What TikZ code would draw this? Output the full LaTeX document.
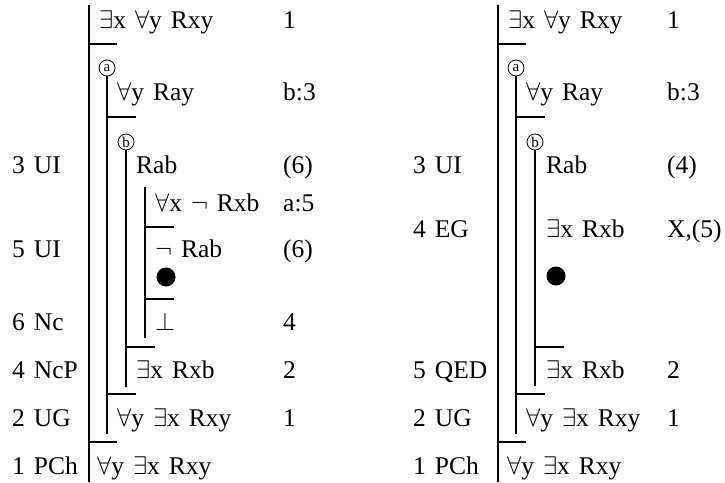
\RequirePackage{fix-cm}
\documentclass[tikz,border=0pt]{standalone}
\usepackage{fontspec}
\setmainfont[WordSpace=1.4]{Liberation Serif}
\usepackage{tikz}
\usetikzlibrary{positioning}

\newcommand{\qE}{$\exists$}
\newcommand{\qA}{$\forall$}
\newcommand{\qN}{$\neg$}
\newcommand{\qF}{$\bot$}

\begin{document}
\begin{tikzpicture}[
  x=1pt, y=-1pt,
  fml/.style={anchor=base west, inner sep=0pt, font=\fontsize{25.5}{30}\selectfont},
  rulename/.style={fml},
  just/.style={fml},
  tag/.style={circle, draw, line width=0.8pt, inner sep=0pt, minimum size=16pt,
              font=\fontsize{15}{15}\selectfont},
  bar/.style={line width=1.4pt},
  blob/.style={circle, fill=black, inner sep=0pt, minimum size=19pt}
]
\useasboundingbox (0,0) rectangle (725,482);

% left proof: scope lines
\draw[bar] (89,5) -- (89,482);
\draw[bar] (89,44) -- (117,44);
\node[tag] (La) at (107,68) {a};
\draw[bar] (La.south) -- (107,434);
\draw[bar] (107,117) -- (136,117);
\node[tag] (Lb) at (126,142) {b};
\draw[bar] (Lb.south) -- (126,387);
\draw[bar] (145,187) -- (145,338);
\draw[bar] (145,227) -- (174,227);
\draw[bar] (145,299) -- (174,299);
\draw[bar] (126,347) -- (155,347);
\draw[bar] (107,394) -- (136,394);
\draw[bar] (89,442) -- (117,442);

% left proof: lines of the proof
\node[fml] (Lprem) at (99,28)  {\qE x \qA y Rxy};
\node[fml] (Lray)  at (117,100) {\qA y Ray};
\node[fml] (Lrab)  at (136,173) {Rab};
\node[fml] (Lhyp)  at (155,211) {\qA x \qN\ Rxb};
\node[fml] (Lnrab) at (155,257) {\qN\ Rab};
\node[blob] (Ldot) at (166,277) {};
\node[fml] (Lbot)  at (155,330) {\qF};
\node[fml] (Lex)   at (136,378) {\qE x Rxb};
\node[fml] (Lug)   at (117,426) {\qA y \qE x Rxy};
\node[fml] (Lend)  at (97,474)  {\qA y \qE x Rxy};

\node[rulename] (Lr3) at (12,173) {3 UI};
\node[rulename] (Lr5) at (12,257) {5 UI};
\node[rulename] (Lr6) at (12,330) {6 Nc};
\node[rulename] (Lr4) at (12,378) {4 NcP};
\node[rulename] (Lr2) at (12,426) {2 UG};
\node[rulename] (Lr1) at (12,474) {1 PCh};

\node[just] (Lj1) at (283,28)  {1};
\node[just] (Lj2) at (283,100) {b:3};
\node[just] (Lj3) at (283,173) {(6)};
\node[just] (Lj4) at (283,211) {a:5};
\node[just] (Lj5) at (283,257) {(6)};
\node[just] (Lj6) at (283,330) {4};
\node[just] (Lj7) at (283,378) {2};
\node[just] (Lj8) at (283,426) {1};

% right proof: scope lines
\draw[bar] (498,5) -- (498,482);
\draw[bar] (498,44) -- (526,44);
\node[tag] (Ra) at (516,68) {a};
\draw[bar] (Ra.south) -- (516,434);
\draw[bar] (516,117) -- (545,117);
\node[tag] (Rb) at (535,142) {b};
\draw[bar] (Rb.south) -- (535,386);
\draw[bar] (535,347) -- (564,347);
\draw[bar] (516,394) -- (545,394);
\draw[bar] (498,442) -- (526,442);

% right proof: lines of the proof
\node[fml] (Rprem) at (508,28)  {\qE x \qA y Rxy};
\node[fml] (Rray)  at (526,100) {\qA y Ray};
\node[fml] (Rrab)  at (546,173) {Rab};
\node[fml] (Reg)   at (546,237) {\qE x Rxb};
\node[blob] (Rdot) at (556,276) {};
\node[fml] (Rex)   at (546,378) {\qE x Rxb};
\node[fml] (Rug)   at (526,426) {\qA y \qE x Rxy};
\node[fml] (Rend)  at (507,474) {\qA y \qE x Rxy};

\node[rulename] (Rr3) at (413,173) {3 UI};
\node[rulename] (Rr4) at (413,237) {4 EG};
\node[rulename] (Rr5) at (413,378) {5 QED};
\node[rulename] (Rr2) at (413,426) {2 UG};
\node[rulename] (Rr1) at (413,474) {1 PCh};

\node[just] (Rj1) at (667,28)  {1};
\node[just] (Rj2) at (667,100) {b:3};
\node[just] (Rj3) at (667,173) {(4)};
\node[just] (Rj4) at (667,237) {X,(5)};
\node[just] (Rj5) at (667,378) {2};
\node[just] (Rj6) at (667,426) {1};
\end{tikzpicture}
\end{document}
